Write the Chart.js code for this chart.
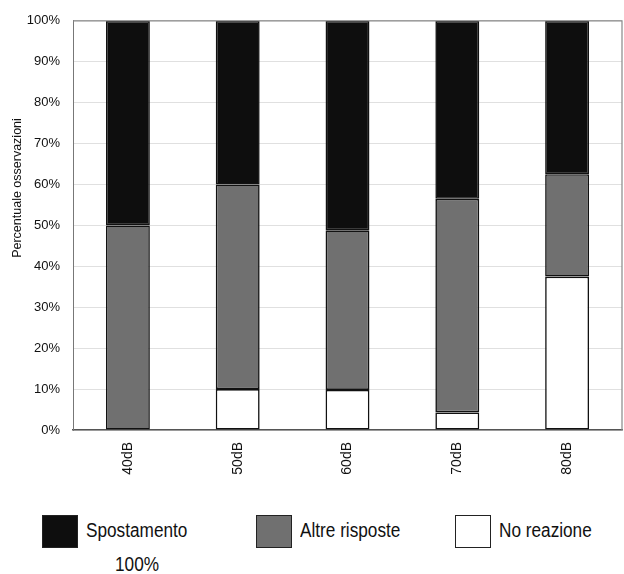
<!DOCTYPE html>
<html lang="it">
<head>
    <meta charset="UTF-8">
    <title>Percentuale osservazioni</title>
    <script src="https://cdn.jsdelivr.net/npm/chart.js"></script>
    <style>
        body { margin: 0; background: #fff; font-family: 'Liberation Sans', Arial, sans-serif; }
        #wrap { position: relative; width: 624px; height: 574px; }
        #chartBox { position: absolute; left: 0; top: 0; width: 624px; height: 500px; }
        .key { position: absolute; width: 36px; height: 33px; box-sizing: border-box; border: 1px solid #222; }
        .lbl { position: absolute; font-size: 20px; color: #111; line-height: 33px; transform: scaleX(0.86); transform-origin: left center; white-space: nowrap; }
    </style>
</head>
<body>
<div id="wrap">
    <div id="chartBox"><canvas id="chart"></canvas></div>
    <div id="legend"></div>
</div>
<script>
const categories = ['40dB', '50dB', '60dB', '70dB', '80dB'];
const noReazione = [0, 10, 9.8, 4.3, 37.5];
const altreRisposte = [50, 50, 39.0, 52.2, 25];
const spostamento = [50, 40, 51.2, 43.5, 37.5];
const yTicks = [0, 10, 20, 30, 40, 50, 60, 70, 80, 90, 100];
const yTitle = 'Percentuale osservazioni';

const series = [
    { label: 'No reazione', data: noReazione, color: '#ffffff' },
    { label: 'Altre risposte', data: altreRisposte, color: '#707070' },
    { label: 'Spostamento', data: spostamento, color: '#0e0e0e' }
];

const fontFamily = "'Liberation Sans', Arial, sans-serif";

new Chart(document.getElementById('chart'), {
    type: 'bar',
    data: {
        labels: categories,
        datasets: series.map(s => ({
            label: s.label,
            data: s.data,
            backgroundColor: s.color,
            borderColor: '#111',
            borderWidth: 1.6,
            borderSkipped: false,
            barPercentage: 0.4,
            categoryPercentage: 1
        }))
    },
    options: {
        responsive: true,
        maintainAspectRatio: false,
        animation: false,
        layout: { padding: { top: 19, right: 2, left: 0, bottom: 0 } },
        plugins: { legend: { display: false }, tooltip: { enabled: false } },
        scales: {
            x: {
                stacked: true,
                grid: { display: false },
                border: { color: '#555', width: 1.5 },
                ticks: { color: '#111', font: { family: fontFamily, size: 14 }, maxRotation: 90, minRotation: 90, padding: 4 },
                afterFit: s => { s.height = 70; }
            },
            y: {
                stacked: true,
                min: 0,
                max: 100,
                afterBuildTicks: s => { s.ticks = yTicks.map(v => ({ value: v })); },
                grid: { color: '#e0e0e0', drawTicks: false },
                border: { color: '#777' },
                ticks: { color: '#111', font: { family: fontFamily, size: 13 }, padding: 13, callback: v => v + '%' },
                afterFit: s => { s.width = 73; }
            }
        }
    },
    plugins: [{
        id: 'frame',
        afterDraw(chart) {
            const { ctx, chartArea: a } = chart;
            ctx.save();
            ctx.strokeStyle = '#888';
            ctx.lineWidth = 1.2;
            ctx.beginPath();
            ctx.moveTo(a.left, a.top);
            ctx.lineTo(a.right, a.top);
            ctx.lineTo(a.right, a.bottom);
            ctx.stroke();
            // axis title, sitting a little above the middle as in the original
            ctx.translate(18, 188);
            ctx.rotate(-Math.PI / 2);
            ctx.fillStyle = '#111';
            ctx.font = '12.5px ' + fontFamily;
            ctx.textAlign = 'center';
            ctx.textBaseline = 'middle';
            ctx.fillText(yTitle, 0, 0);
            ctx.restore();
        }
    }]
});

// legend drawn below the chart, reading series in display order
const legend = document.getElementById('legend');
const keyLeft = [42, 256, 455];
const legendOrder = [series[2], series[1], series[0]];
legendOrder.forEach((s, i) => {
    const box = document.createElement('div');
    box.className = 'key';
    box.style.left = keyLeft[i] + 'px';
    box.style.top = '515px';
    box.style.background = s.color;
    legend.appendChild(box);
    const t = document.createElement('div');
    t.className = 'lbl';
    t.style.left = (keyLeft[i] + 44) + 'px';
    t.style.top = '514px';
    t.textContent = s.label;
    legend.appendChild(t);
});
const extra = document.createElement('div');
extra.className = 'lbl';
extra.style.left = '115px';
extra.style.top = '548px';
extra.textContent = '100%';
legend.appendChild(extra);
</script>
</body>
</html>
